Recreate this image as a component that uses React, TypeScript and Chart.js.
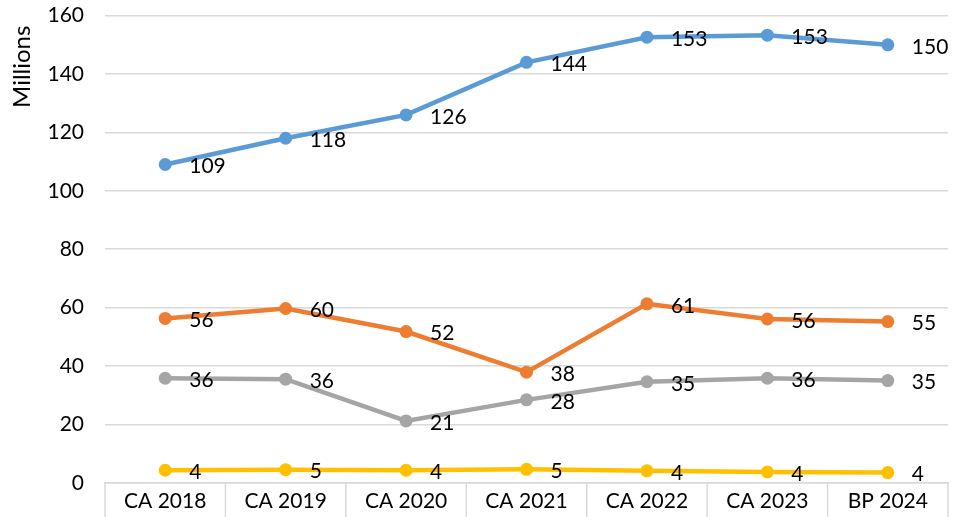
import React, { useEffect, useRef } from "react";
import { Chart, registerables } from "chart.js";

Chart.register(...registerables);

const categories = ["CA 2018", "CA 2019", "CA 2020", "CA 2021", "CA 2022", "CA 2023", "BP 2024"];
const blueSeries = [109, 118, 126, 144, 152.6, 153.3, 150];
const orangeSeries = [56.3, 59.7, 51.8, 37.9, 61.3, 56.1, 55.2];
const graySeries = [35.8, 35.5, 21.2, 28.4, 34.6, 35.8, 35];
const yellowSeries = [4.3, 4.5, 4.3, 4.6, 4.1, 3.7, 3.5];
const yTicks = { min: 0, max: 160, step: 20 };
const yTitle = "Millions";

const FONT = "Lato, 'Liberation Sans', sans-serif";
const FS = 21;
const SHIFT = 18;
const EXTRA_BOTTOM = 3;

const labelPlugin = {
  id: "pointLabels",
  afterDatasetsDraw(chart: any) {
    const ctx = chart.ctx;
    ctx.save();
    ctx.font = `${FS}px ${FONT}`;
    ctx.fillStyle = "#000000";
    ctx.textAlign = "left";
    ctx.textBaseline = "middle";
    chart.data.datasets.forEach((ds: any, i: number) => {
      const meta = chart.getDatasetMeta(i);
      meta.data.forEach((pt: any, j: number) => {
        const v = Math.round(ds.data[j]);
        ctx.fillText(String(v), pt.x + 24, pt.y + 2);
      });
    });
    ctx.restore();
  },
};

const decorPlugin = {
  id: "decor",
  afterDraw(chart: any) {
    const ctx = chart.ctx;
    const xs = chart.scales.x;
    const area = chart.chartArea;
    ctx.save();
    ctx.strokeStyle = "#d9d9d9";
    ctx.lineWidth = 1.5;
    for (let i = 0; i <= categories.length; i++) {
      const x = xs.getPixelForValue(i - 0.5);
      ctx.beginPath();
      ctx.moveTo(x, area.bottom);
      ctx.lineTo(x, chart.height);
      ctx.stroke();
    }
    ctx.translate(22, area.top + 10);
    ctx.rotate(-Math.PI / 2);
    ctx.font = `24px ${FONT}`;
    ctx.fillStyle = "#000";
    ctx.textAlign = "right";
    ctx.textBaseline = "middle";
    ctx.fillText(yTitle, 0, 0);
    ctx.restore();
  },
};

export default function App() {
  const ref = useRef<HTMLCanvasElement>(null);
  useEffect(() => {
    document.body.style.margin = "0";
    const mk = (data: number[], color: string) => ({
      data,
      borderColor: color,
      backgroundColor: color,
      borderWidth: 4.5,
      pointRadius: 6.5,
      pointHoverRadius: 6.5,
      pointBorderWidth: 0,
      tension: 0,
    });
    const chart = new Chart(ref.current as HTMLCanvasElement, {
      type: "line",
      data: {
        labels: categories,
        datasets: [
          mk(blueSeries, "#5B9BD5"),
          mk(orangeSeries, "#ED7D31"),
          mk(graySeries, "#A5A5A5"),
          mk(yellowSeries, "#FFC000"),
        ],
      },
      options: {
        animation: false,
        responsive: false,
        layout: { padding: { top: 0, right: 14, left: 0, bottom: 0 } },
        plugins: { legend: { display: false }, tooltip: { enabled: false } },
        scales: {
          x: {
            offset: true,
            grid: { display: false, drawTicks: false },
            border: { color: "#d9d9d9", width: 1.5 },
            ticks: { font: { size: FS, family: FONT }, color: "#000", padding: 6, maxRotation: 0, autoSkip: false },
          },
          y: {
            min: yTicks.min,
            max: yTicks.max,
            afterFit: (scale: any) => {
              scale.width = 105;
            },
            ticks: { stepSize: yTicks.step, font: { size: FS, family: FONT }, color: "#000", padding: 21 },
            grid: { color: "#d9d9d9", lineWidth: 1.5, drawTicks: false },
            border: { display: false },
          },
        },
      },
      plugins: [labelPlugin, decorPlugin],
    });
    return () => chart.destroy();
  }, []);
  return (
    <div style={{ width: 962, height: 517, overflow: "hidden", position: "relative" }}>
      <canvas
        ref={ref}
        width={962}
        height={517 + SHIFT + EXTRA_BOTTOM}
        style={{ display: "block", position: "absolute", left: 0, top: -SHIFT }}
      />
    </div>
  );
}
